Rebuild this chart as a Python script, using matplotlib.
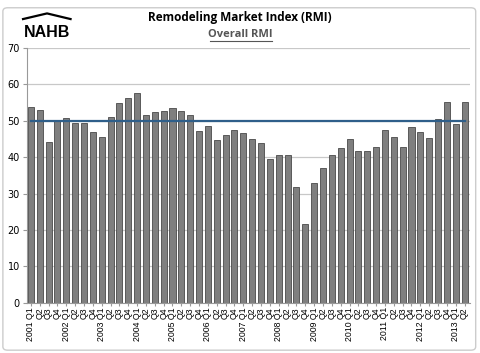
import matplotlib
matplotlib.use("Agg")
import matplotlib.pyplot as plt
from matplotlib.patches import FancyBboxPatch
from matplotlib.lines import Line2D
import numpy as np

# Overall RMI, quarterly 2001 Q1 - 2013 Q2
years = list(range(2001, 2014))
quarters = ["Q1", "Q2", "Q3", "Q4"]
rmi = [53.9, 52.9, 44.3, 50.0, 50.8, 49.4, 49.4, 46.8,
       45.6, 51.1, 54.9, 56.2, 57.6, 51.7, 52.3, 52.6,
       53.4, 52.8, 51.5, 47.2, 48.6, 44.6, 46.1, 47.4,
       46.6, 45.0, 43.9, 39.6, 40.5, 40.5, 31.7, 21.8,
       32.8, 37.0, 40.5, 42.4, 45.1, 41.6, 41.8, 42.8,
       47.6, 45.5, 42.9, 48.3, 46.9, 45.2, 50.4, 55.1,
       49.1, 55.2]
baseline = 50

labels = []
for y in years:
    for q in quarters:
        if q == "Q1":
            labels.append(str(y) + " " + q)
        else:
            labels.append(q)
labels = labels[:len(rmi)]

fig = plt.figure(figsize=(4.8, 3.53), dpi=100)
ax = fig.add_axes([0.056, 0.142, 0.923, 0.722])

x = np.arange(len(rmi))
ax.bar(x, rmi, width=0.68, color="#7f7f7f", edgecolor="#4a4a4a", linewidth=0.6, zorder=2)
ax.plot([x[0], x[-1]], [baseline, baseline], color="#2f5f8a", lw=1.6, zorder=3)

ax.set_ylim(0, 70)
ax.set_xlim(-0.45, len(rmi) - 0.4)
ax.set_yticks(range(0, 71, 10))
ax.yaxis.grid(True, color="#c8c8c8", lw=0.9, zorder=0)
ax.set_axisbelow(True)
ax.set_xticks(x)
ax.set_xticklabels(labels, rotation=90, fontsize=6.3, family="Liberation Sans")
ax.tick_params(axis="x", length=2, pad=1, color="#999999")
ax.tick_params(axis="y", labelsize=7, length=3, color="#999999", pad=2)
for s in ["top", "right"]:
    ax.spines[s].set_visible(False)
ax.spines["left"].set_color("#999999")
ax.spines["bottom"].set_color("#999999")

fig.text(0.5, 0.95, "Remodeling Market Index (RMI)", ha="center", va="center",
         fontsize=8.5, fontweight="bold", family="Open Sans")
fig.text(0.5, 0.903, "Overall RMI", ha="center", va="center",
         fontsize=8, fontweight="bold", family="Open Sans", color="#555555")
fig.add_artist(Line2D([0.438, 0.566], [0.884, 0.884], color="#555555", lw=0.8))

# NAHB logo
fig.text(0.098, 0.909, "NAHB", ha="center", va="center", fontsize=11.5,
         fontweight="bold", family="Liberation Sans")
fig.add_artist(Line2D([0.048, 0.098, 0.147], [0.946, 0.962, 0.946], color="black", lw=1.6))

fig.add_artist(FancyBboxPatch((0.006, 0.008), 0.985, 0.97,
                              boxstyle="round,pad=0,rounding_size=0.01",
                              transform=fig.transFigure, fill=False,
                              edgecolor="#cccccc", lw=1))

fig.savefig("out.png", dpi=100)
